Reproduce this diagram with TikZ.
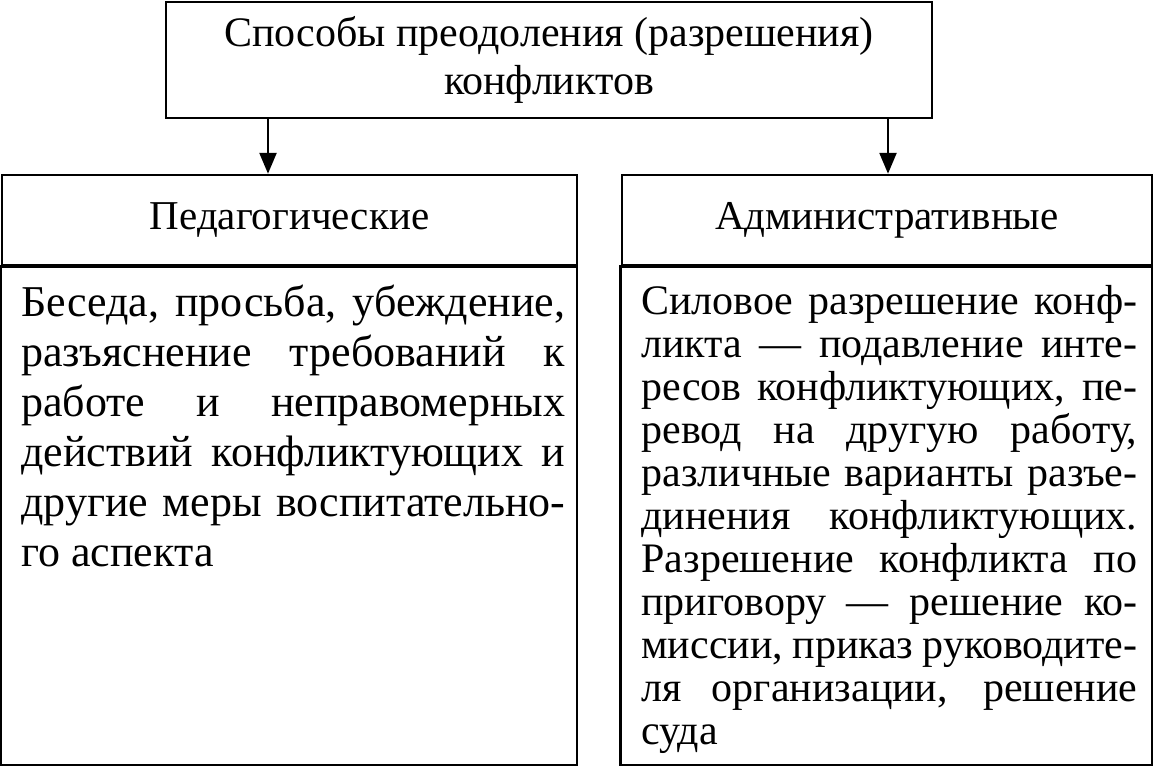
\documentclass[tikz,border=0pt]{standalone}
\usepackage{fontspec}
\setmainfont{Liberation Serif}
\usetikzlibrary{positioning}
\usetikzlibrary{arrows}
\begin{document}
\begin{tikzpicture}[x=0.5pt,y=-0.5pt,>=triangle 45,line width=1.4pt,
	box/.style={draw,inner sep=0pt,align=center,font=\fontsize{21}{24}\selectfont},
	body/.style={inner sep=0pt,anchor=north west,align=justify}]
	
	\useasboundingbox (0,0) rectangle (1154,767);
	
	\node[box, minimum width=383pt, minimum height=58pt] (top) at (549,60)
	{Способы преодоления (разрешения)\\конфликтов};
	\node[box, minimum width=287.5pt, minimum height=45pt, font=\fontsize{20.5}{24}\selectfont] (ped) at (289.5,220) {Педагогические};
	\node[box, minimum width=265pt, minimum height=45pt, font=\fontsize{20.5}{24}\selectfont] (adm) at (887,220) {Административные};
	
	\coordinate (pedend) at (577,765);
	\coordinate (admend) at (1152,765);
	\draw (ped.south west) rectangle (pedend);
	\draw (adm.south west) rectangle (admend);
	
	\node[body, text width=272pt, font=\fontsize{22}{25}\selectfont] (pedtext) at (20,284)
	{Беседа, просьба, убеждение,\linebreak разъяснение требований к\linebreak работе и неправомерных\linebreak действий конфликтующих и\linebreak другие меры воспитательно-\linebreak го аспекта};
	\node[body, text width=248pt, font=\fontsize{21}{21.5}\selectfont] (admtext) at (640,284)
	{Силовое разрешение конф-\linebreak ликта — подавление инте-\linebreak ресов конфликтующих, пе-\linebreak ревод на другую работу,\linebreak различные варианты разъе-\linebreak динения конфликтующих.\linebreak Разрешение конфликта по\linebreak приговору — решение ко-\linebreak миссии, приказ руководите-\linebreak ля организации, решение\linebreak суда};
	
	\coordinate (a1) at (268,0 |- top.south);
	\draw[->] (a1) -- (a1 |- ped.north);
	\coordinate (a2) at (888,0 |- top.south);
	\draw[->] (a2) -- (a2 |- adm.north);
\end{tikzpicture}
\end{document}
